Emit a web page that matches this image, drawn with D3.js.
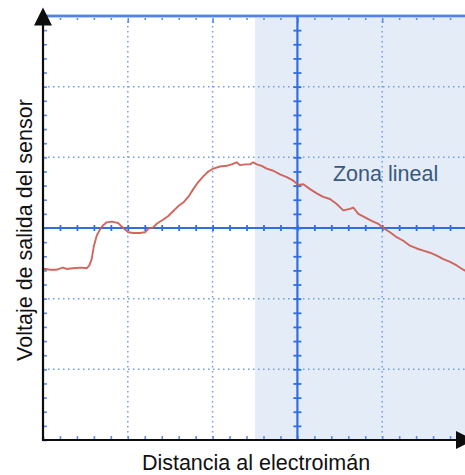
<!DOCTYPE html>
<html>
<head>
<meta charset="utf-8">
<script src="https://cdn.jsdelivr.net/npm/d3@7"></script>
<style>
  html, body { margin: 0; padding: 0; background: #fff; }
  svg { display: block; font-family: "Liberation Sans", Arial, Helvetica, sans-serif; }
</style>
</head>
<body>
<svg id="chart" width="465" height="475"></svg>
<script>
// Sensor trace: distance (0-50, 10 per division) vs output voltage (divisions)
const distance = [0.1, 0.35, 0.83, 1.62, 2.36, 2.79, 3.54, 4.56, 5.15, 5.46, 5.74, 6.01, 6.33, 6.72,
  7.11, 7.51, 8.10, 8.49, 8.88, 9.28, 9.67, 10.06, 10.65, 11.44, 12.03, 12.42, 13.01, 13.41,
  14.19, 14.78, 15.37, 15.96, 16.54, 17.13, 17.72, 18.31, 18.90, 19.49, 20.08, 20.87, 21.66,
  22.25, 22.84, 23.23, 23.82, 24.41, 24.80, 25.20, 25.79, 26.38, 27.16, 27.95, 28.74, 29.52,
  30.11, 30.70, 31.49, 32.28, 33.05, 33.84, 34.63, 35.41, 36.20, 36.59, 37.18, 37.97, 38.76,
  39.54, 40.13, 40.92, 41.71, 42.49, 43.28, 44.07, 44.85, 45.64, 46.43, 47.21, 48.00, 48.79,
  49.56, 50.0];
const voltage = [-0.58, -0.58, -0.59, -0.59, -0.56, -0.58, -0.57, -0.56, -0.57, -0.53, -0.44, -0.25, -0.11, -0.02,
  0.04, 0.08, 0.09, 0.08, 0.07, 0.02, -0.02, -0.06, -0.07, -0.07, -0.06, -0.01, 0.01, 0.06,
  0.12, 0.17, 0.24, 0.31, 0.36, 0.44, 0.55, 0.65, 0.73, 0.80, 0.84, 0.87, 0.88,
  0.90, 0.93, 0.89, 0.90, 0.90, 0.93, 0.90, 0.88, 0.84, 0.81, 0.76, 0.72, 0.67,
  0.61, 0.62, 0.55, 0.49, 0.44, 0.41, 0.34, 0.25, 0.27, 0.29, 0.20, 0.15, 0.10,
  0.06, 0.00, -0.06, -0.13, -0.18, -0.25, -0.29, -0.32, -0.35, -0.39, -0.44, -0.48, -0.53,
  -0.59, -0.62];

// Grid divisions and annotation
const xMajor = [10, 20, 40];          // dotted verticals (30 is the solid centre line)
const yMajor = [-2, -1, 1, 2];        // dotted horizontals (0 is the solid centre line)
const xMinor = d3.range(0, 50.01, 2);
const yMinor = d3.range(-3, 3.001, 0.2).map(v => +v.toFixed(1));
const linearZone = [25, 50];
const zoneLabel = "Zona lineal";
const zoneLabelPos = [40.4, 0.66];    // label anchor (distance, voltage)
const xTitle = "Distancia al electroimán";
const yTitle = "Voltaje de salida del sensor";

const svg = d3.select("#chart");
const x = d3.scaleLinear().domain([0, 50]).range([43, 467]);
const y = d3.scaleLinear().domain([-3, 3]).range([440, 16]);

// shaded linear zone
svg.append("rect")
  .attr("x", x(linearZone[0])).attr("y", y(3))
  .attr("width", x(linearZone[1]) - x(linearZone[0]))
  .attr("height", y(-3) - y(3))
  .attr("fill", "#e4ecf7");

const dotColor = "#7399ea";
// dotted grid
svg.append("g").selectAll("line").data(xMajor).join("line")
  .attr("x1", d => x(d)).attr("x2", d => x(d))
  .attr("y1", y(3)).attr("y2", y(-3))
  .attr("stroke", dotColor).attr("stroke-width", 1.5)
  .attr("stroke-dasharray", "1.5,3.5");
svg.append("g").selectAll("line").data(yMajor).join("line")
  .attr("y1", d => y(d)).attr("y2", d => y(d))
  .attr("x1", x(0)).attr("x2", x(50))
  .attr("stroke", dotColor).attr("stroke-width", 1.5)
  .attr("stroke-dasharray", "1.5,3.5");

// edge ticks (top, bottom, left)
function styleTicks(g, color, width) {
  g.select(".domain").remove();
  g.selectAll(".tick line").attr("stroke", color).attr("stroke-width", width);
  g.selectAll(".tick text").remove();
}
svg.append("g").attr("transform", `translate(0,${y(3)})`)
  .call(d3.axisTop(x).tickValues(xMinor).tickSizeInner(-4).tickSizeOuter(0))
  .call(g => styleTicks(g, "#5d8de9", 1.6))
  .call(g => g.selectAll(".tick line").filter(d => d % 10 === 0).attr("y2", 7));
svg.append("g").attr("transform", `translate(0,${y(-3)})`)
  .call(d3.axisBottom(x).tickValues(xMinor).tickSizeInner(-4).tickSizeOuter(0))
  .call(g => styleTicks(g, "#5d8de9", 1.6));
svg.append("g").attr("transform", `translate(${x(0)},0)`)
  .call(d3.axisLeft(y).tickValues(yMinor).tickSizeInner(-4).tickSizeOuter(0))
  .call(g => styleTicks(g, "#5d8de9", 1.6));

// top border with soft halo
svg.append("line")
  .attr("x1", x(0)).attr("x2", x(50)).attr("y1", y(3)).attr("y2", y(3))
  .attr("stroke", "#b7cbf3").attr("stroke-width", 4);
svg.append("line")
  .attr("x1", x(0)).attr("x2", x(50)).attr("y1", y(3)).attr("y2", y(3))
  .attr("stroke", "#4f83e8").attr("stroke-width", 1.8);

const centreColor = "#2f6fe3";
// horizontal centre line with minor ticks
svg.append("g").attr("transform", `translate(0,${y(0)})`)
  .call(d3.axisBottom(x).tickValues(xMinor.filter(d => d > 0 && d < 50)).tickSizeInner(3).tickSizeOuter(0))
  .call(g => g.select(".domain").attr("stroke", centreColor).attr("stroke-width", 2.2)
    .attr("d", `M${x(0)},0H${x(50)}`))
  .call(g => g.selectAll(".tick text").remove())
  .call(g => g.selectAll(".tick line").attr("stroke", centreColor).attr("stroke-width", 1.8)
    .attr("y1", -3).attr("y2", 3));
// vertical centre line with minor ticks
svg.append("g").attr("transform", `translate(${x(30)},0)`)
  .call(d3.axisLeft(y).tickValues(yMinor.filter(d => d > -3 && d < 3)).tickSizeInner(4).tickSizeOuter(0))
  .call(g => g.select(".domain").attr("stroke", centreColor).attr("stroke-width", 2.2)
    .attr("d", `M0,${y(3)}V${y(-3)}`))
  .call(g => g.selectAll(".tick text").remove())
  .call(g => g.selectAll(".tick line").attr("stroke", centreColor).attr("stroke-width", 1.8)
    .attr("x1", -4).attr("x2", 4));

// sensor trace
const pts = distance.map((d, i) => [d, voltage[i]]);
svg.append("path")
  .datum(pts)
  .attr("fill", "none")
  .attr("stroke", "#cc5a4f")
  .attr("stroke-width", 1.9)
  .attr("stroke-linejoin", "round")
  .attr("opacity", 0.92)
  .attr("d", d3.line().x(d => x(d[0])).y(d => y(d[1])));

// zone annotation
svg.append("text")
  .attr("x", x(zoneLabelPos[0]))
  .attr("y", y(zoneLabelPos[1]))
  .attr("text-anchor", "middle")
  .attr("font-size", 21.5)
  .attr("fill", "#38597f")
  .text(zoneLabel);

// black axes with arrow heads
const axisColor = "#0d0d0d";
svg.append("line")
  .attr("x1", x(0)).attr("x2", x(0)).attr("y1", y(-3) + 1).attr("y2", 22)
  .attr("stroke", axisColor).attr("stroke-width", 2.2);
svg.append("path")
  .attr("d", `M${x(0)},7.5L${x(0) - 9},25.5L${x(0) + 9},25.5Z`)
  .attr("fill", axisColor);
svg.append("line")
  .attr("x1", x(0) - 1).attr("x2", 460).attr("y1", y(-3)).attr("y2", y(-3))
  .attr("stroke", axisColor).attr("stroke-width", 2.2);
svg.append("path")
  .attr("d", `M456,${y(-3) - 9}L474,${y(-3)}L456,${y(-3) + 9}Z`)
  .attr("fill", axisColor);

// axis titles
svg.append("text")
  .attr("x", 256).attr("y", 470)
  .attr("text-anchor", "middle")
  .attr("font-size", 21.5)
  .attr("fill", "#111")
  .text(xTitle);
svg.append("text")
  .attr("transform", "translate(32,230) rotate(-90)")
  .attr("text-anchor", "middle")
  .attr("font-size", 21.5)
  .attr("fill", "#111")
  .text(yTitle);
</script>
</body>
</html>
